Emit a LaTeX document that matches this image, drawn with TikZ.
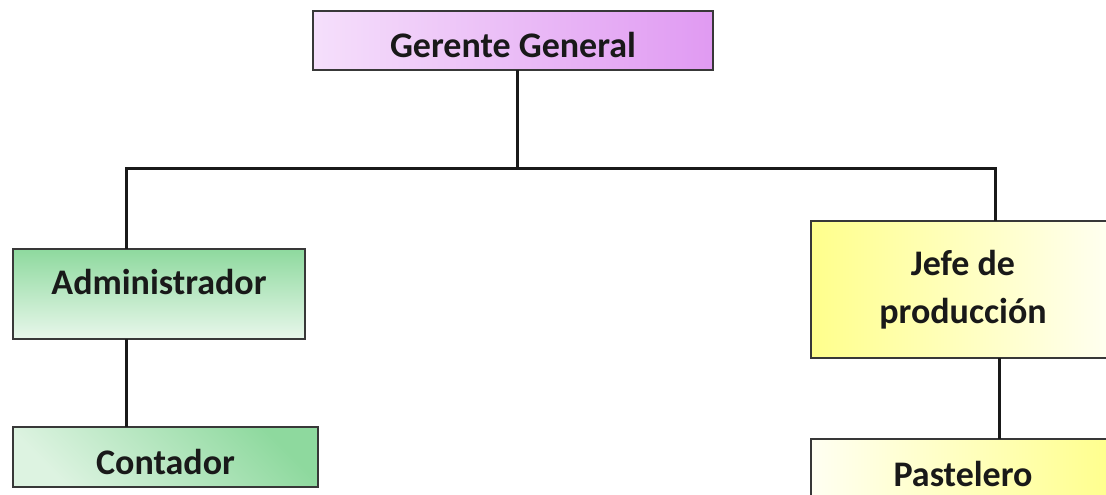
\documentclass[tikz,border=0pt]{standalone}
\usepackage{fontspec}
\setmainfont{Carlito}
\begin{document}
\begin{tikzpicture}[x=0.75pt,y=-0.75pt,
  box/.style={draw=black!78, line width=1.5pt, inner sep=0pt, outer sep=0pt,
    font=\fontsize{27}{36}\selectfont\bfseries, text=black!90, align=center},
  link/.style={draw=black!90, line width=2.25pt},
  capht/.style={text height=17.4pt+#1, text depth=0pt},
]
\definecolor{lilaA}{HTML}{F5DFFB}\definecolor{lilaB}{HTML}{E09AF2}
\definecolor{verdeA}{HTML}{8ED99E}\definecolor{verdeB}{HTML}{E8F7EB}
\definecolor{verdeC}{HTML}{DDF3E1}
\definecolor{amarA}{HTML}{FFFF8C}\definecolor{amarB}{HTML}{FFFFF2}
\clip (0,0) rectangle (1106,495);
\fill[white] (0,0) rectangle (1106,495);

% boxes of the chart
\node[box, left color=lilaA, right color=lilaB, minimum width=300pt, minimum height=44.25pt,
      capht=7.5pt] (gg) at (513,40.5) {Gerente General};
\node[box, top color=verdeA, bottom color=verdeB, minimum width=219pt, minimum height=67.5pt,
      text height=17.4pt, text depth=16.5pt] (adm) at (159,294) {Administrador};
\node[box, shading=axis, top color=verdeA, bottom color=verdeC, shading angle=-45,
      minimum width=228.75pt, minimum height=45pt, capht=9pt] (con) at (165.5,457) {Contador};
\node[box, left color=amarA, right color=amarB, minimum width=228pt, minimum height=102.75pt]
      (jefe) at (963,289.5) {Jefe de\\producción};
\node[box, left color=amarB, right color=amarA, minimum width=228pt, minimum height=45pt,
      capht=9pt] (pas) at (963,469) {Pastelero};

% connectors
\coordinate (busL) at (126,169);
\coordinate (busR) at (995,169);
\coordinate (colJ) at (999,0);
\draw[link] ([xshift=3pt]gg.south) -- ([xshift=3pt]gg.south |- busL);
\draw[link] (adm.north -| busL) |- (busR) -- (busR |- jefe.north);
\draw[link] (adm.south -| busL) -- (con.north -| busL);
\draw[link] (jefe.south -| colJ) -- (pas.north -| colJ);
\end{tikzpicture}
\end{document}
